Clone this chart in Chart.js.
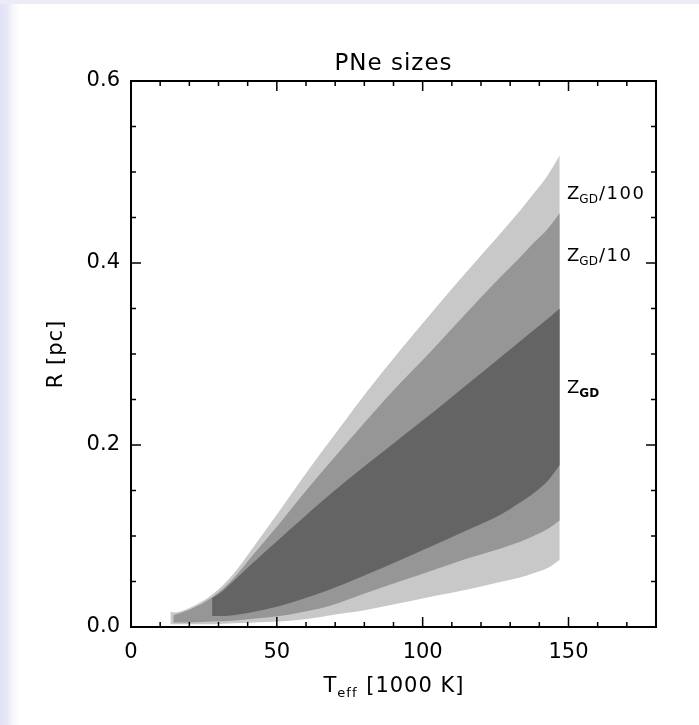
<!DOCTYPE html>
<html>
<head>
<meta charset="utf-8">
<script src="https://cdn.jsdelivr.net/npm/chart.js@4.4.1/dist/chart.umd.min.js"></script>
<style>
  html, body { margin: 0; padding: 0; }
  body {
    width: 699px; height: 725px; overflow: hidden;
    background:
      linear-gradient(to bottom, #ececf9 0, #ececf9 4px, rgba(255,255,255,0) 4px),
      linear-gradient(to right, #e2e2f6 0, #e6e6f8 7px, #f5f5fc 12px, #ffffff 20px);
  }
  #wrap { position: absolute; left: 0; top: 0; width: 699px; height: 725px; }
</style>
</head>
<body>
<div id="wrap"><canvas id="c" width="699" height="725"></canvas></div>
<script>
// Teff in 1000 K, R in pc, one band per grain/dust metallicity
const tempZ100 = [13.5, 14.5, 20, 28, 35, 42, 51, 58, 65, 73, 81, 92, 104, 115, 126.5, 133, 138, 143, 147];
const rTopZ100 = [0.017, 0.016, 0.021, 0.036, 0.058, 0.088, 0.128, 0.160, 0.191, 0.225, 0.259, 0.303, 0.349, 0.390, 0.432, 0.456, 0.476, 0.497, 0.518];
const rBotZ100 = [0.003, 0.003, 0.003, 0.003, 0.004, 0.005, 0.006, 0.008, 0.011, 0.015, 0.019, 0.026, 0.034, 0.041, 0.0495, 0.054, 0.059, 0.065, 0.074];

const tempZ10 = [14.5, 20, 28, 35, 42, 51, 58, 68, 81, 92, 104, 115, 126.5, 133, 138, 143, 147];
const rTopZ10 = [0.013, 0.019, 0.033, 0.053, 0.080, 0.114, 0.142, 0.180, 0.228, 0.267, 0.307, 0.345, 0.384, 0.405, 0.422, 0.438, 0.455];
const rBotZ10 = [0.005, 0.005, 0.006, 0.007, 0.009, 0.012, 0.016, 0.023, 0.038, 0.050, 0.063, 0.075, 0.086, 0.093, 0.100, 0.108, 0.117];

const tempZ1 = [27.8, 30, 35, 41, 51, 58, 68, 81, 92, 104, 115, 126.5, 133, 138, 143, 147];
const rTopZ1 = [0.032, 0.036, 0.050, 0.068, 0.097, 0.117, 0.145, 0.179, 0.207, 0.237, 0.266, 0.296, 0.313, 0.326, 0.339, 0.350];
const rBotZ1 = [0.012, 0.012, 0.013, 0.016, 0.023, 0.030, 0.041, 0.058, 0.073, 0.090, 0.106, 0.123, 0.136, 0.147, 0.161, 0.178];

// band labels: [main, subscript, suffix, anchor R]
const bandLabels = [
  ['Z', 'GD', '/100', 0.475],
  ['Z', 'GD', '/10', 0.407],
  ['Z', 'GD', '', 0.262]
];
const labelTemp = 149.5;

const FONT = '"DejaVu Sans ExtraLight", "DejaVu Sans", sans-serif';

function pts(t, r) {
  return t.map((v, i) => ({ x: v, y: r[i] }));
}

function band(t, top, bot, color) {
  const base = { borderWidth: 0, pointRadius: 0, cubicInterpolationMode: 'monotone' };
  return [
    { ...base, data: pts(t, top), fill: '+1', backgroundColor: color },
    { ...base, data: pts(t, bot), fill: false }
  ];
}

const frame = {
  id: 'frame',
  afterDraw(chart) {
    const { ctx, chartArea: a, scales: { x, y } } = chart;
    ctx.save();
    ctx.strokeStyle = '#000';
    ctx.lineWidth = 1.5;
    ctx.beginPath();
    for (let v = 10; v < 180; v += 10) {
      const px = x.getPixelForValue(v);
      const len = v % 50 === 0 ? 10 : 5;
      ctx.moveTo(px, a.bottom); ctx.lineTo(px, a.bottom - len);
      ctx.moveTo(px, a.top); ctx.lineTo(px, a.top + len);
    }
    for (let i = 1; i < 12; i++) {
      const py = y.getPixelForValue(i * 0.05);
      const len = i % 4 === 0 ? 10 : 5;
      ctx.moveTo(a.left, py); ctx.lineTo(a.left + len, py);
      ctx.moveTo(a.right, py); ctx.lineTo(a.right - len, py);
    }
    ctx.stroke();
    ctx.lineWidth = 2;
    ctx.strokeRect(a.left, a.top, a.right - a.left, a.bottom - a.top);

    ctx.fillStyle = '#000';
    const cx = (a.left + a.right) / 2;
    // title
    ctx.font = '23px ' + FONT;
    ctx.textAlign = 'center';
    ctx.textBaseline = 'alphabetic';
    ctx.letterSpacing = '1px';
    ctx.fillText('PNe sizes', cx, 70);

    // x title with subscript
    ctx.textAlign = 'left';
    ctx.font = '21px ' + FONT;
    const wT = ctx.measureText('T').width;
    const rest = ' [1000 K]';
    const wR = ctx.measureText(rest).width;
    ctx.font = '13px ' + FONT;
    const wS = ctx.measureText('eff').width;
    let sx = cx - (wT + wS + wR) / 2;
    ctx.font = '21px ' + FONT;
    ctx.fillText('T', sx, 692);
    ctx.font = '13px ' + FONT;
    ctx.fillText('eff', sx + wT, 697);
    ctx.font = '21px ' + FONT;
    ctx.fillText(rest, sx + wT + wS + 1, 692);

    // y title
    ctx.save();
    ctx.translate(57, (a.top + a.bottom) / 2);
    ctx.rotate(-Math.PI / 2);
    ctx.textAlign = 'center';
    ctx.textBaseline = 'middle';
    ctx.font = '21px ' + FONT;
    ctx.fillText('R [pc]', 0, 0);
    ctx.restore();

    // band labels
    ctx.textBaseline = 'middle';
    ctx.textAlign = 'left';
    const lx = x.getPixelForValue(labelTemp);
    bandLabels.forEach(([m, sub, suf, r], i) => {
      const py = y.getPixelForValue(r);
      ctx.letterSpacing = '0px';
      ctx.font = '18px ' + FONT;
      ctx.fillText(m, lx, py);
      const wm = ctx.measureText(m).width;
      ctx.font = (i === 2 ? 'bold ' : '') + '12px ' + FONT;
      ctx.fillText(sub, lx + wm, py + 5);
      const ws = ctx.measureText(sub).width;
      ctx.letterSpacing = '1.5px';
      ctx.font = '18px ' + FONT;
      ctx.fillText(suf, lx + wm + ws + 1, py);
    });
    ctx.restore();
  }
};

new Chart(document.getElementById('c'), {
  type: 'line',
  data: {
    datasets: [
      ...band(tempZ1, rTopZ1, rBotZ1, '#646464'),
      ...band(tempZ10, rTopZ10, rBotZ10, '#969696'),
      ...band(tempZ100, rTopZ100, rBotZ100, '#c8c8c8')
    ]
  },
  options: {
    responsive: false,
    animation: false,
    events: [],
    layout: { padding: { top: 81, right: 43, left: 0, bottom: 0 } },
    plugins: { legend: { display: false }, tooltip: { enabled: false }, title: { display: false } },
    scales: {
      x: {
        type: 'linear', min: 0, max: 180,
        grid: { display: false, drawTicks: false },
        border: { display: false },
        ticks: {
          stepSize: 50, includeBounds: false, padding: 13,
          color: '#000', font: { family: FONT, size: 21 },
          callback: v => String(v)
        },
        afterFit(s) { s.height = 98; }
      },
      y: {
        type: 'linear', min: 0, max: 0.6,
        grid: { display: false, drawTicks: false },
        border: { display: false },
        ticks: {
          stepSize: 0.2, includeBounds: false, padding: 11,
          color: '#000', font: { family: FONT, size: 21 },
          callback: v => v.toFixed(1)
        },
        afterFit(s) { s.width = 131; }
      }
    }
  },
  plugins: [frame]
});
</script>
</body>
</html>
